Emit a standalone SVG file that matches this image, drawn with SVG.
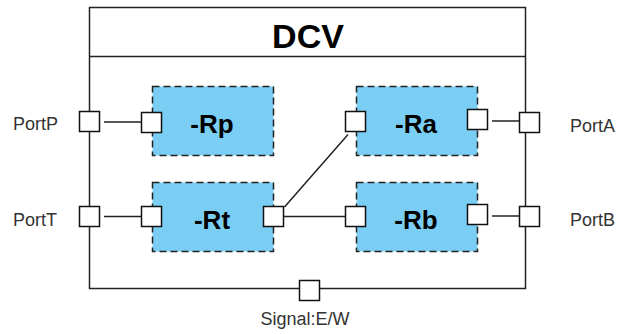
<svg xmlns="http://www.w3.org/2000/svg" width="617" height="334" viewBox="0 0 617 334">
<style>
.frame{fill:#fff;stroke:#222;stroke-width:1.5}
.blk{fill:#7ACEF3;stroke:#222;stroke-width:1.5;stroke-dasharray:7 4}
.port{fill:#fff;stroke:#111;stroke-width:1.5}
.wire{stroke:#222;stroke-width:1.5;fill:none}
.lbl{font-family:"Liberation Sans",Arial,sans-serif;font-size:18px;fill:#333}
.name{font-family:"Liberation Sans",Arial,sans-serif;font-weight:bold;fill:#000;text-anchor:middle}
</style>
<g id="DCV">
<rect class="frame" x="89.5" y="7.5" width="436" height="281"/>
<line class="wire" x1="89.5" y1="56.5" x2="525.5" y2="56.5"/>
<text class="name" x="308" y="48" font-size="34">DCV</text>
</g>
<g id="Rp">
<rect class="blk" x="152.5" y="86.5" width="121" height="69"/>
<text class="name" x="212" y="133" font-size="26">-Rp</text>
<rect class="port" x="141.5" y="112.5" width="20" height="20"/>
</g>
<g id="Rt">
<rect class="blk" x="152.5" y="182.5" width="121" height="69"/>
<text class="name" x="212" y="229" font-size="26">-Rt</text>
<rect class="port" x="141.5" y="206.5" width="20" height="20"/>
<rect class="port" x="263.5" y="206.5" width="20" height="20"/>
</g>
<g id="Ra">
<rect class="blk" x="356.5" y="86.5" width="121" height="69"/>
<text class="name" x="416" y="133" font-size="26">-Ra</text>
<rect class="port" x="345.5" y="111.5" width="20" height="20"/>
<rect class="port" x="467.5" y="109.5" width="20" height="20"/>
</g>
<g id="Rb">
<rect class="blk" x="356.5" y="182.5" width="121" height="69"/>
<text class="name" x="416" y="229" font-size="26">-Rb</text>
<rect class="port" x="345.5" y="206.5" width="20" height="20"/>
<rect class="port" x="467.5" y="204.5" width="20" height="20"/>
</g>
<g id="connectors">
<line class="wire" x1="104" y1="122" x2="141.5" y2="122"/>
<line class="wire" x1="104" y1="216.5" x2="141.5" y2="216.5"/>
<line class="wire" x1="284.5" y1="207" x2="348" y2="134.5"/>
<line class="wire" x1="283.5" y1="216.5" x2="345.5" y2="216.5"/>
<line class="wire" x1="492" y1="121" x2="519.5" y2="121"/>
<line class="wire" x1="492" y1="216" x2="519.5" y2="216"/>
</g>
<g id="PortP">
<rect class="port" x="79.5" y="111.5" width="20" height="20"/>
<text class="lbl" x="13" y="130">PortP</text>
</g>
<g id="PortT">
<rect class="port" x="79.5" y="206.5" width="20" height="20"/>
<text class="lbl" x="13" y="226">PortT</text>
</g>
<g id="PortA">
<rect class="port" x="519.5" y="112.5" width="20" height="20"/>
<text class="lbl" x="570" y="132">PortA</text>
</g>
<g id="PortB">
<rect class="port" x="519.5" y="206.5" width="20" height="20"/>
<text class="lbl" x="570" y="226">PortB</text>
</g>
<g id="Signal">
<rect class="port" x="299.5" y="280.5" width="20" height="20"/>
<text class="lbl" x="305" y="325" text-anchor="middle">Signal:E/W</text>
</g>
</svg>
